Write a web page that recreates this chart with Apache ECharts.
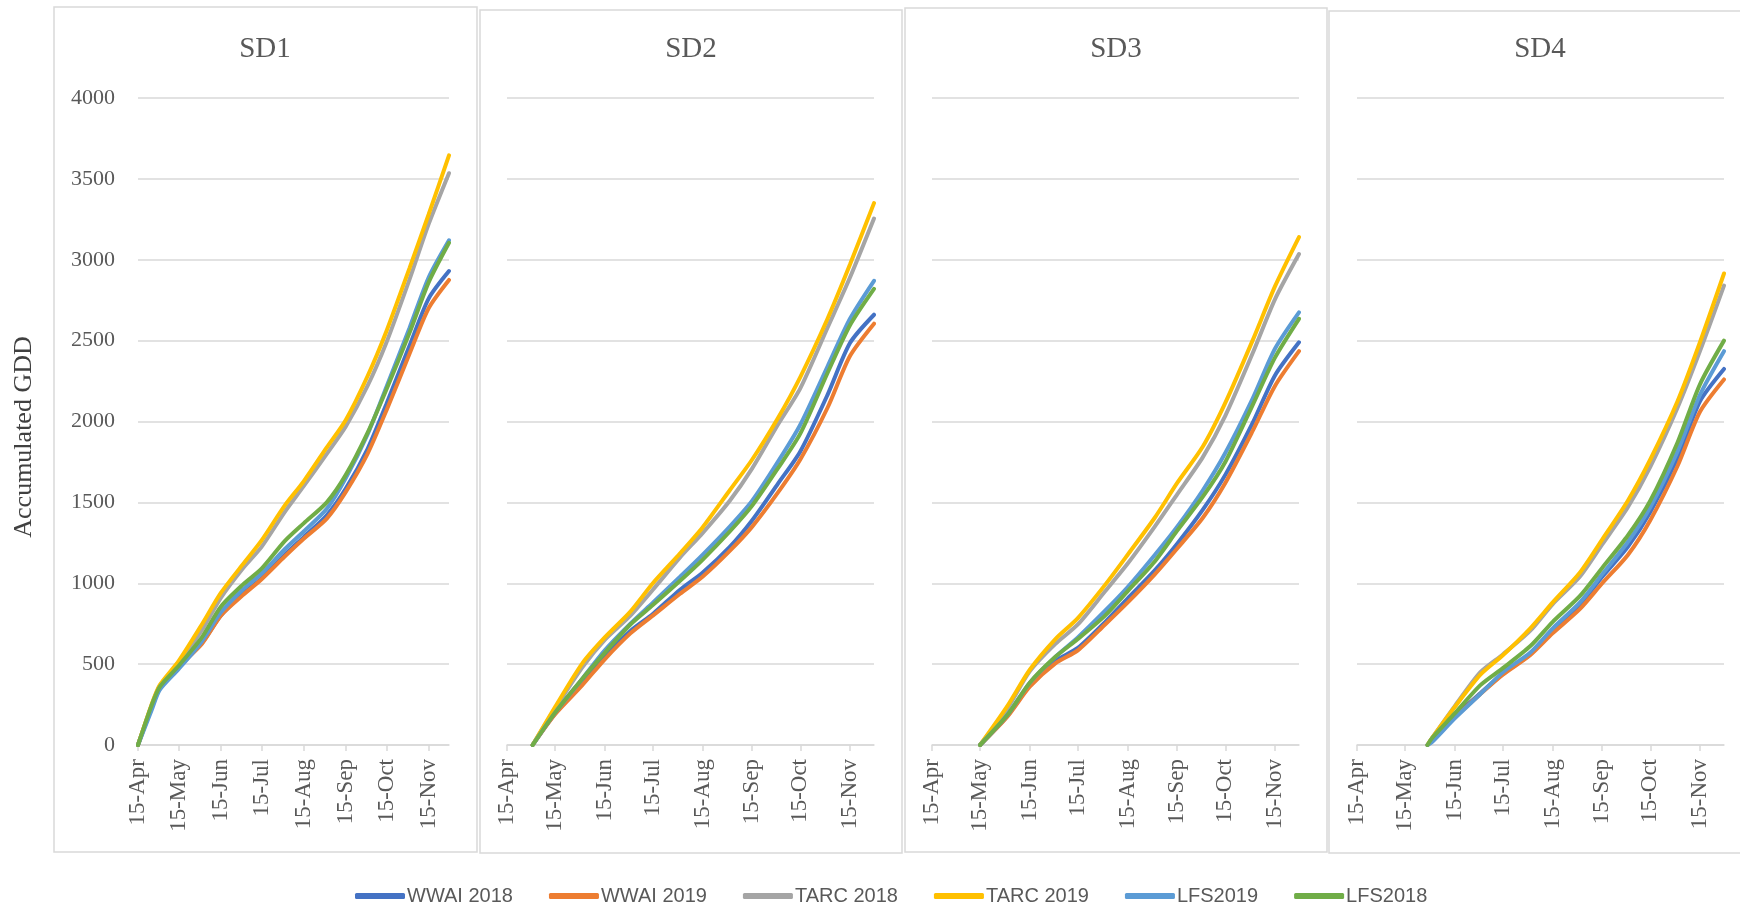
<!DOCTYPE html>
<html>
<head>
<meta charset="UTF-8">
<title>Accumulated GDD</title>
<script src="https://cdn.jsdelivr.net/npm/echarts@6/dist/echarts.min.js"></script>
<style>
html, body { margin: 0; padding: 0; background: #fff; }
#chart { width: 1740px; height: 907px; }
</style>
</head>
<body>
<div id="chart"></div>
<script>
// legend names (same order as the series)
var seriesNames = ['WWAI 2018', 'WWAI 2019', 'TARC 2018', 'TARC 2019', 'LFS2019', 'LFS2018'];
var panelTitles = ['SD1', 'SD2', 'SD3', 'SD4'];
var tickDates = ['04-15', '05-15', '06-15', '07-15', '08-15', '09-15', '10-15', '11-15'];
var axisStart = '04-15';
var axisEnd = '11-30';

// SD1 (sown 15-Apr)
var sd1Dates    = ['04-15','04-25','05-01','05-15','06-01','06-15','07-01','07-15','08-01','08-15','09-01','09-15','10-01','10-15','11-01','11-15','11-30'];
var sd1Wwai2018 = [0, 230, 350, 480, 630, 800, 935, 1030, 1175, 1285, 1420, 1585, 1830, 2110, 2470, 2760, 2930];
var sd1Wwai2019 = [0, 235, 355, 485, 625, 800, 925, 1025, 1165, 1275, 1400, 1565, 1800, 2070, 2420, 2700, 2875];
var sd1Tarc2018 = [0, 245, 365, 505, 710, 910, 1090, 1225, 1440, 1600, 1800, 1970, 2220, 2490, 2880, 3220, 3535];
var sd1Tarc2019 = [0, 250, 370, 520, 745, 940, 1115, 1265, 1480, 1630, 1840, 2010, 2280, 2560, 2950, 3280, 3645];
var sd1Lfs2019  = [0, 215, 340, 470, 640, 820, 960, 1060, 1210, 1320, 1460, 1650, 1920, 2215, 2580, 2890, 3120];
var sd1Lfs2018  = [0, 245, 360, 490, 665, 855, 990, 1090, 1260, 1370, 1500, 1670, 1930, 2200, 2550, 2860, 3105];

// SD2 (sown 1-May)
var sd2Dates    = ['05-01','05-15','06-01','06-15','07-01','07-15','08-01','08-15','09-01','09-15','10-01','10-15','11-01','11-15','11-30'];
var sd2Wwai2018 = [0, 195, 385, 545, 705, 810, 960, 1065, 1225, 1390, 1615, 1815, 2165, 2485, 2660];
var sd2Wwai2019 = [0, 190, 370, 530, 690, 800, 935, 1040, 1200, 1350, 1560, 1765, 2085, 2405, 2605];
var sd2Tarc2018 = [0, 225, 480, 650, 800, 960, 1160, 1310, 1510, 1710, 1980, 2205, 2580, 2890, 3255];
var sd2Tarc2019 = [0, 235, 505, 665, 825, 1000, 1185, 1345, 1575, 1765, 2020, 2275, 2635, 2970, 3350];
var sd2Lfs2019  = [0, 200, 410, 585, 750, 880, 1040, 1175, 1350, 1510, 1750, 1980, 2340, 2635, 2870];
var sd2Lfs2018  = [0, 200, 410, 570, 745, 865, 1015, 1145, 1320, 1480, 1710, 1925, 2300, 2595, 2820];

// SD3 (sown 15-May)
var sd3Dates    = ['05-15','06-01','06-15','07-01','07-15','08-01','08-15','09-01','09-15','10-01','10-15','11-01','11-15','11-30'];
var sd3Wwai2018 = [0, 180, 370, 520, 600, 760, 905, 1080, 1245, 1455, 1670, 1990, 2285, 2490];
var sd3Wwai2019 = [0, 175, 360, 505, 585, 745, 880, 1055, 1215, 1405, 1620, 1940, 2220, 2435];
var sd3Tarc2018 = [0, 225, 455, 625, 745, 950, 1120, 1350, 1550, 1780, 2035, 2420, 2755, 3035];
var sd3Tarc2019 = [0, 240, 465, 655, 785, 990, 1175, 1405, 1620, 1845, 2115, 2500, 2835, 3140];
var sd3Lfs2019  = [0, 185, 385, 545, 665, 830, 975, 1175, 1350, 1575, 1805, 2140, 2450, 2675];
var sd3Lfs2018  = [0, 185, 385, 545, 655, 800, 950, 1135, 1325, 1535, 1750, 2100, 2395, 2635];

// SD4 (sown end of May)
var sd4Dates    = ['05-29','06-01','06-15','07-01','07-15','08-01','08-15','09-01','09-15','10-01','10-15','11-01','11-15','11-30'];
var sd4Wwai2018 = [0, 30, 180, 320, 440, 560, 705, 865, 1040, 1225, 1440, 1775, 2125, 2325];
var sd4Wwai2019 = [0, 30, 170, 315, 435, 555, 690, 840, 1000, 1175, 1390, 1725, 2060, 2260];
var sd4Tarc2018 = [0, 45, 240, 450, 560, 705, 870, 1040, 1240, 1470, 1720, 2085, 2435, 2840];
var sd4Tarc2019 = [0, 45, 235, 435, 555, 720, 880, 1065, 1270, 1510, 1765, 2125, 2490, 2915];
var sd4Lfs2019  = [0, 20, 165, 315, 450, 570, 720, 880, 1055, 1255, 1470, 1815, 2165, 2435];
var sd4Lfs2018  = [0, 45, 195, 370, 475, 610, 760, 920, 1095, 1295, 1510, 1870, 2230, 2500];

var panels = [
  { dates: sd1Dates, values: [sd1Wwai2018, sd1Wwai2019, sd1Tarc2018, sd1Tarc2019, sd1Lfs2019, sd1Lfs2018] },
  { dates: sd2Dates, values: [sd2Wwai2018, sd2Wwai2019, sd2Tarc2018, sd2Tarc2019, sd2Lfs2019, sd2Lfs2018] },
  { dates: sd3Dates, values: [sd3Wwai2018, sd3Wwai2019, sd3Tarc2018, sd3Tarc2019, sd3Lfs2019, sd3Lfs2018] },
  { dates: sd4Dates, values: [sd4Wwai2018, sd4Wwai2019, sd4Tarc2018, sd4Tarc2019, sd4Lfs2019, sd4Lfs2018] }
];

var colors = ['#4472C4', '#ED7D31', '#A5A5A5', '#FFC000', '#5B9BD5', '#70AD47'];
var monthNames = ['Jan','Feb','Mar','Apr','May','Jun','Jul','Aug','Sep','Oct','Nov','Dec'];
var serif = '"Liberation Serif", "DejaVu Serif", serif';
var narrow = '"Liberation Sans Narrow", "Arial Narrow", "Liberation Sans", sans-serif';

// grid boxes and panel frames, in pixels
var gridLeft = [138, 507, 932, 1357];
var gridWidth = [311, 367, 367, 367];
var frames = [[54, 7, 423, 845], [480, 10, 422, 843], [905, 8, 422, 844], [1329, 11, 425, 842]];
var titleX = [265, 691, 1116, 1540];

// dates become day numbers counted from 15-Apr
var DAY = 86400000;
var origin = Date.UTC(2019, 3, 15);
function toDay(md) {
  var p = md.split('-');
  return Math.round((Date.UTC(2019, +p[0] - 1, +p[1]) - origin) / DAY);
}
function dayLabel(v) {
  var d = new Date(origin + Math.round(v) * DAY);
  return d.getUTCDate() + '-' + monthNames[d.getUTCMonth()];
}
var tickDays = tickDates.map(toDay);

var myChart = echarts.init(document.getElementById('chart'));

var grids = [], xAxes = [], yAxes = [], series = [], graphics = [];

panels.forEach(function (panel, i) {
  grids.push({ left: gridLeft[i], top: 98, width: gridWidth[i], height: 647 });

  xAxes.push({
    type: 'value',
    gridIndex: i,
    min: toDay(axisStart),
    max: toDay(axisEnd),
    axisLine: { show: true, onZero: false, lineStyle: { color: '#d9d9d9', width: 1.5 } },
    axisTick: { show: true, customValues: tickDays, length: 6, lineStyle: { color: '#d9d9d9', width: 1.5 } },
    axisLabel: {
      customValues: tickDays,
      rotate: 90,
      margin: 14,
      color: '#595959',
      fontFamily: serif,
      fontSize: 23,
      formatter: dayLabel
    },
    splitLine: { show: false }
  });

  yAxes.push({
    type: 'value',
    gridIndex: i,
    min: 0,
    max: 4000,
    interval: 500,
    axisLine: { show: false },
    axisTick: { show: false },
    axisLabel: {
      show: i === 0, margin: 23, color: '#595959', fontFamily: serif, fontSize: 22,
      formatter: function (v) { return String(v); }
    },
    splitLine: { lineStyle: { color: '#d9d9d9', width: 1.5 } }
  });

  panel.values.forEach(function (vals, j) {
    series.push({
      name: seriesNames[j],
      type: 'line',
      xAxisIndex: i,
      yAxisIndex: i,
      showSymbol: false,
      smooth: 0.25,
      color: colors[j],
      lineStyle: { width: 4, color: colors[j], cap: 'round' },
      data: panel.dates.map(function (d, k) { return [toDay(d), vals[k]]; })
    });
  });

  var f = frames[i];
  graphics.push({
    type: 'rect', z: -1, silent: true,
    shape: { x: f[0], y: f[1], width: f[2], height: f[3] },
    style: { fill: 'none', stroke: '#d9d9d9', lineWidth: 1.5 }
  });
  graphics.push({
    type: 'text', x: titleX[i], y: 49,
    style: { text: panelTitles[i], align: 'center', verticalAlign: 'middle', fill: '#595959', font: '29px ' + serif }
  });
});

graphics.push({
  type: 'text', x: 24, y: 437, rotation: Math.PI / 2,
  style: { text: 'Accumulated GDD', align: 'center', verticalAlign: 'middle', fill: '#404040', font: '26px ' + serif }
});

var option = {
  animation: false,
  backgroundColor: '#fff',
  grid: grids,
  xAxis: xAxes,
  yAxis: yAxes,
  series: series,
  graphic: graphics,
  legend: {
    data: seriesNames,
    top: 881,
    left: 350,
    icon: 'roundRect',
    itemWidth: 50,
    itemHeight: 6,
    itemGap: 36,
    textStyle: { color: '#595959', fontFamily: narrow, fontSize: 20, padding: [0, 0, 0, -3] }
  }
};

myChart.setOption(option);
</script>
</body>
</html>
